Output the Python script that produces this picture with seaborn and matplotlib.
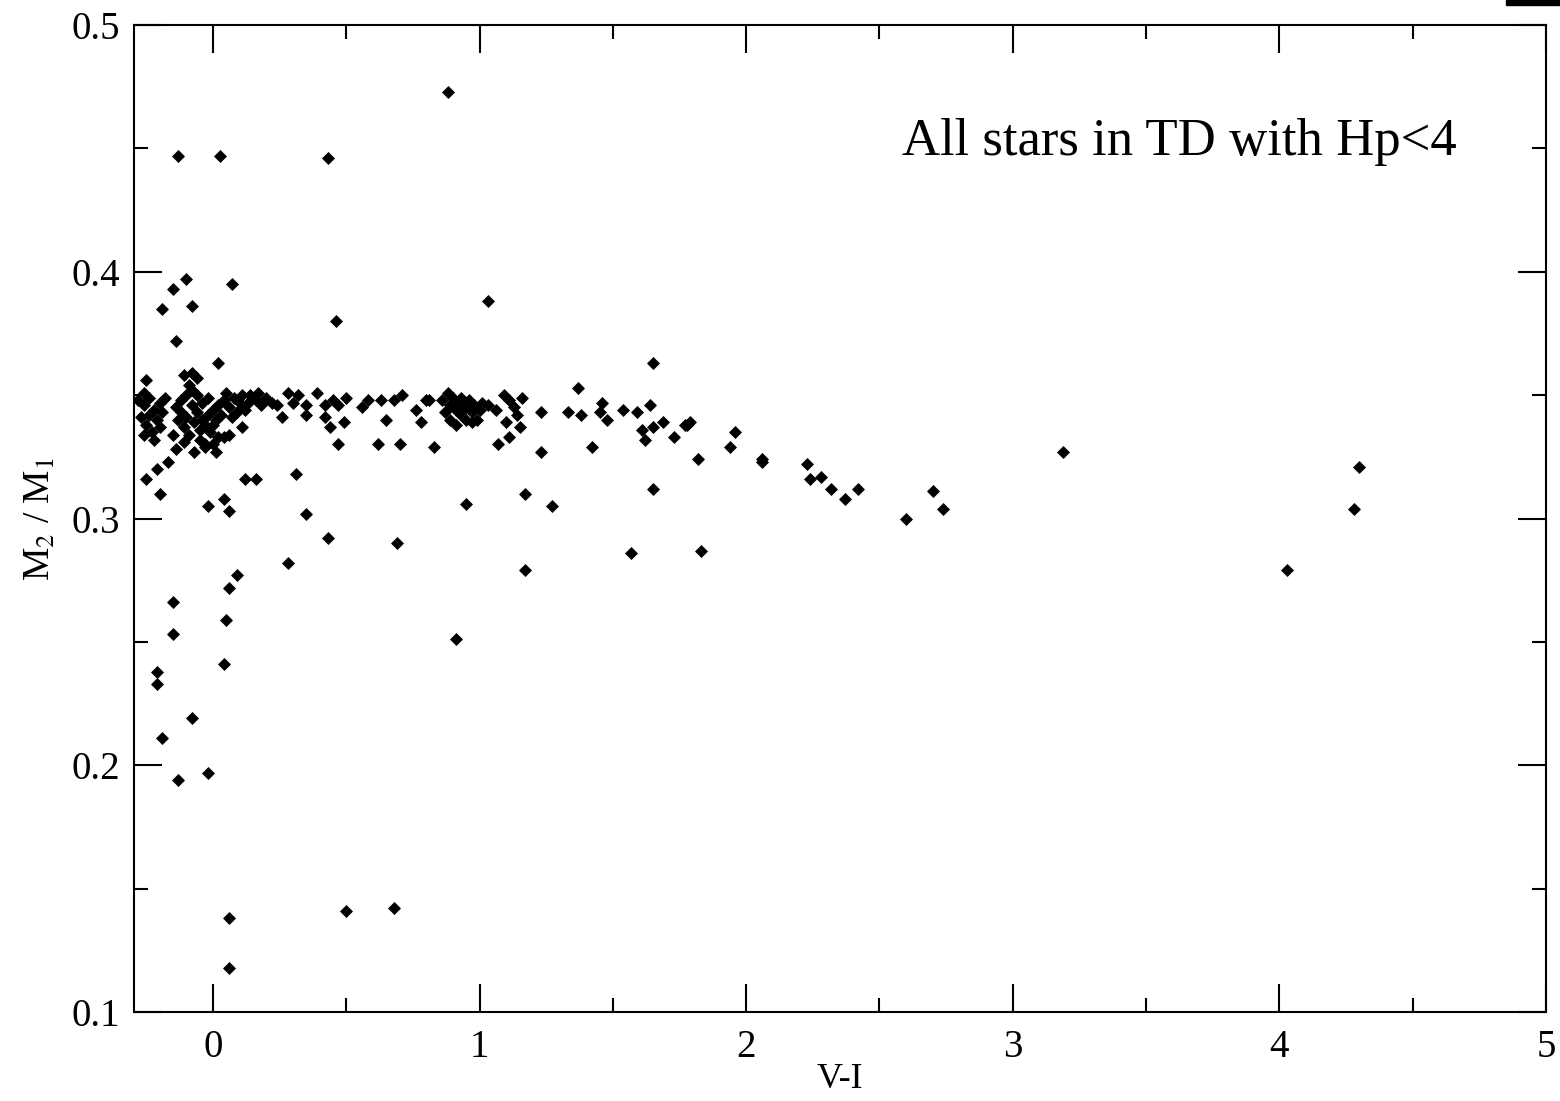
import numpy as np
import pandas as pd
import matplotlib
matplotlib.use("Agg")
import matplotlib.pyplot as plt
import seaborn as sns
from matplotlib.ticker import MultipleLocator
from matplotlib.patches import Rectangle

# V-I colour and mass ratio
vi_cluster = [-0.28, -0.26, -0.24, -0.22, -0.20, -0.27, -0.25, -0.21, -0.19, -0.23, -0.22, -0.18, -0.26, -0.24, -0.20,
              -0.14, -0.12, -0.10, -0.08, -0.06, -0.04, -0.02, 0.00, 0.02, -0.13, -0.11, -0.09, -0.07, -0.05, -0.03,
              -0.01, 0.01, 0.03, -0.12, -0.10, -0.06, -0.04, -0.02, 0.00, -0.08, -0.05, 0.02, -0.11, -0.03,
              0.04, 0.06, 0.08, 0.10, 0.12, 0.14, 0.16, 0.18, 0.20, 0.22, 0.05, 0.09, 0.13, 0.17, 0.07, 0.11, 0.24]
q_cluster = [0.348, 0.346, 0.349, 0.344, 0.347, 0.341, 0.338, 0.340, 0.343, 0.335, 0.332, 0.349, 0.351, 0.342, 0.337,
             0.345, 0.348, 0.350, 0.346, 0.343, 0.347, 0.349, 0.344, 0.346, 0.340, 0.337, 0.334, 0.339, 0.336, 0.338,
             0.335, 0.340, 0.342, 0.343, 0.341, 0.350, 0.340, 0.342, 0.338, 0.352, 0.332, 0.333, 0.331, 0.329,
             0.348, 0.345, 0.349, 0.347, 0.344, 0.350, 0.348, 0.346, 0.349, 0.347, 0.351, 0.343, 0.347, 0.351, 0.341, 0.350, 0.346]

vi_band = [0.28, 0.30, 0.32, 0.35, 0.39, 0.42, 0.45, 0.47, 0.50, 0.56, 0.58, 0.63, 0.68, 0.71, 0.76, 0.78, 0.80, 0.81,
           0.86, 0.88, 0.89, 0.90, 0.91, 0.92, 0.93, 0.94, 0.95, 0.96, 0.97, 0.98, 0.99, 1.00, 0.87, 0.89, 0.91, 0.93,
           0.95, 0.97, 1.01, 1.03, 1.06, 1.09, 1.11, 1.13, 1.16, 1.14, 1.10, 1.15, 1.11, 1.07, 1.23, 1.23,
           1.33, 1.38, 1.37, 1.42, 1.45, 1.46, 1.48, 1.54, 1.59, 1.64, 1.61, 1.62, 1.65, 1.69, 1.73, 1.77, 1.79, 1.78]
q_band = [0.351, 0.347, 0.350, 0.346, 0.351, 0.346, 0.348, 0.346, 0.349, 0.345, 0.348, 0.348, 0.348, 0.350, 0.344, 0.339, 0.348, 0.348,
          0.348, 0.351, 0.346, 0.349, 0.344, 0.347, 0.342, 0.345, 0.340, 0.348, 0.343, 0.346, 0.340, 0.344, 0.343, 0.340, 0.338, 0.349,
          0.345, 0.339, 0.347, 0.346, 0.344, 0.350, 0.348, 0.345, 0.349, 0.342, 0.339, 0.337, 0.333, 0.330, 0.343, 0.327,
          0.343, 0.342, 0.353, 0.329, 0.343, 0.347, 0.340, 0.344, 0.343, 0.346, 0.336, 0.332, 0.337, 0.339, 0.333, 0.338, 0.339, 0.338]

vi_scatter = [0.88, -0.13, 0.025, 0.43, -0.10, -0.15, -0.19, -0.08, -0.14, 0.07, 0.46, 0.02, -0.25, -0.11, -0.08, -0.06, -0.09,
              -0.26, -0.15, -0.14, -0.17, -0.21, -0.25, -0.20, -0.07, -0.03, 0.00, 0.01, 0.04, 0.06, 0.11,
              -0.02, 0.04, 0.06, 0.12, 0.16, 0.31, 0.35, 0.43, 0.69, 0.47, 0.62, 0.70, 0.26, 0.35, 0.42, 0.44, 0.49, 0.65,
              0.28, 0.09, 0.06, -0.15, 0.05, -0.15, 0.04, -0.21, -0.21, -0.08, -0.19, -0.13, -0.02,
              0.06, 0.06, 0.50, 0.68,
              1.03, 1.65, 1.82, 1.65, 1.17, 0.95, 1.27, 0.83, 1.17, 1.57, 1.83, 0.91,
              1.96, 1.94, 2.06, 2.06, 2.23, 2.24, 2.28, 2.32, 2.37, 2.42, 2.60, 2.70, 2.74,
              3.19, 4.03, 4.28, 4.30]
q_scatter = [0.473, 0.447, 0.447, 0.446, 0.397, 0.393, 0.385, 0.386, 0.372, 0.395, 0.380, 0.363, 0.356, 0.358, 0.359, 0.357, 0.354,
             0.334, 0.334, 0.328, 0.323, 0.320, 0.316, 0.310, 0.327, 0.330, 0.330, 0.327, 0.333, 0.334, 0.337,
             0.305, 0.308, 0.303, 0.316, 0.316, 0.318, 0.302, 0.292, 0.290, 0.330, 0.330, 0.330, 0.341, 0.342, 0.341, 0.337, 0.339, 0.340,
             0.282, 0.277, 0.272, 0.266, 0.259, 0.253, 0.241, 0.238, 0.233, 0.219, 0.211, 0.194, 0.197,
             0.138, 0.118, 0.141, 0.142,
             0.388, 0.363, 0.324, 0.312, 0.310, 0.306, 0.305, 0.329, 0.279, 0.286, 0.287, 0.251,
             0.335, 0.329, 0.324, 0.323, 0.322, 0.316, 0.317, 0.312, 0.308, 0.312, 0.300, 0.311, 0.304,
             0.327, 0.279, 0.304, 0.321]

df = pd.DataFrame({
    "VI": vi_cluster + vi_band + vi_scatter,
    "q": q_cluster + q_band + q_scatter,
})

sns.set_style("ticks")
plt.rcParams["font.family"] = ["Liberation Serif", "DejaVu Serif"]
plt.rcParams["mathtext.fontset"] = "stix"
plt.rcParams["text.color"] = "black"
plt.rcParams["axes.labelcolor"] = "black"
plt.rcParams["xtick.color"] = "black"
plt.rcParams["ytick.color"] = "black"

fig = plt.figure(figsize=(15.6, 11.01), dpi=100)
ax = fig.add_axes([0.0859, 0.0808, 0.9051, 0.8965])

sns.scatterplot(x="VI", y="q", data=df, ax=ax, marker="D", color="black", s=44, linewidth=0)

ax.set_xlim(-0.296, 5)
ax.set_ylim(0.1, 0.5)
ax.xaxis.set_major_locator(MultipleLocator(1))
ax.xaxis.set_minor_locator(MultipleLocator(0.5))
ax.yaxis.set_major_locator(MultipleLocator(0.1))
ax.yaxis.set_minor_locator(MultipleLocator(0.05))
ax.tick_params(which="both", direction="in", top=True, right=True, width=1.5, colors="black")
ax.tick_params(which="major", length=20, labelsize=28, pad=10)
ax.tick_params(which="minor", length=10)
ax.tick_params(axis="x", which="major", pad=12)
for sp in ax.spines.values():
    sp.set_linewidth(1.5)
    sp.set_color("black")

ax.set_xlabel("V-I", fontsize=26, labelpad=-2)
ax.set_ylabel(r"M$_2$ / M$_1$", fontsize=27, labelpad=10)
ax.text(2.586, 0.4526, "All stars in TD with Hp<4", fontsize=38, va="center", ha="left", color="black")

# small dark bar in the top right corner of the reference image
fig.add_artist(Rectangle((1506 / 1560, 1 - 5 / 1101), 54 / 1560, 5 / 1101,
                         transform=fig.transFigure, color="black"))

fig.savefig("out.png", dpi=100)
